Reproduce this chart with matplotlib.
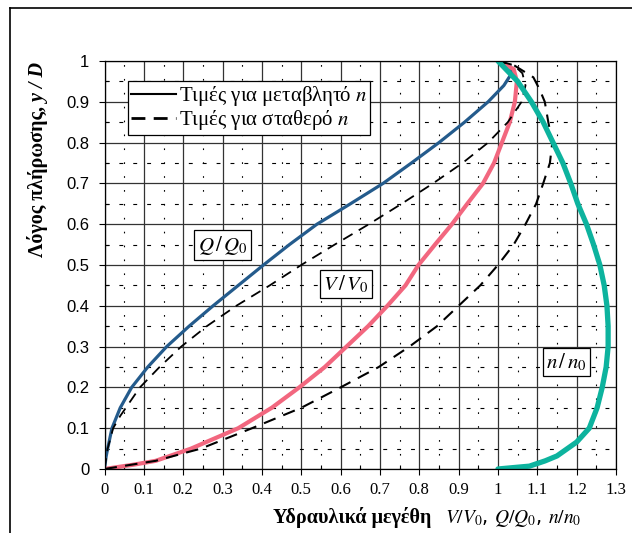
import matplotlib
matplotlib.use("Agg")
from matplotlib import pyplot as plt
from matplotlib.ticker import MultipleLocator
from matplotlib.lines import Line2D

plt.rcParams['mathtext.fontset'] = 'stix'
serif = 'Liberation Serif'
sans = 'Liberation Sans'

# fill ratio y/D and the hydraulic ratios
# Q/Q0, variable n
y_q_var = [0, 0.03, 0.05, 0.1, 0.15, 0.2, 0.25, 0.3, 0.35, 0.4, 0.45, 0.5, 0.55,
           0.6, 0.65, 0.7, 0.75, 0.8, 0.85, 0.9, 0.94, 0.97, 0.99, 1.0]
q_var = [0, 0.004, 0.008, 0.019, 0.04, 0.069, 0.11, 0.158, 0.215, 0.276, 0.34, 0.404, 0.47,
         0.54, 0.625, 0.708, 0.78, 0.85, 0.915, 0.975, 1.015, 1.035, 1.03, 1.0]

# V/V0, variable n
y_v_var = [0, 0.01, 0.02, 0.05, 0.1, 0.15, 0.2, 0.25, 0.3, 0.35, 0.4, 0.45, 0.5, 0.55,
           0.6, 0.65, 0.7, 0.75, 0.8, 0.85, 0.9, 0.95, 0.98, 1.0]
v_var = [0, 0.07, 0.13, 0.22, 0.34, 0.425, 0.495, 0.56, 0.615, 0.67, 0.719, 0.765, 0.798, 0.84,
         0.883, 0.922, 0.962, 0.99, 1.01, 1.03, 1.043, 1.048, 1.04, 1.0]

# n/n0
y_n = [0, 0.007, 0.02, 0.032, 0.066, 0.1, 0.15, 0.2, 0.25, 0.3, 0.35, 0.4, 0.45, 0.5,
       0.55, 0.6, 0.65, 0.7, 0.75, 0.8, 0.85, 0.9, 0.95, 1.0]
n_ratio = [1.0, 1.08, 1.12, 1.15, 1.20, 1.232, 1.252, 1.265, 1.275, 1.28, 1.28, 1.277, 1.27, 1.259,
           1.243, 1.225, 1.203, 1.185, 1.165, 1.14, 1.115, 1.085, 1.05, 1.0]

# Q/Q0, constant n
y_q_const = [0, 0.05, 0.1, 0.13, 0.2, 0.25, 0.3, 0.35, 0.4, 0.45, 0.5, 0.55, 0.6, 0.65,
             0.7, 0.75, 0.8, 0.85, 0.9, 0.94, 0.97, 0.99, 1.0]
q_const = [0, 0.008, 0.022, 0.04, 0.09, 0.14, 0.195, 0.26, 0.335, 0.42, 0.5, 0.585, 0.672, 0.755,
           0.835, 0.91, 0.975, 1.025, 1.06, 1.07, 1.062, 1.04, 1.0]

# V/V0, constant n
y_v_const = [0, 0.02, 0.05, 0.1, 0.15, 0.2, 0.25, 0.3, 0.35, 0.4, 0.45, 0.5, 0.55, 0.6,
             0.65, 0.7, 0.75, 0.8, 0.85, 0.9, 0.93, 0.96, 0.99, 1.0]
v_const = [0, 0.13, 0.245, 0.375, 0.5, 0.6, 0.697, 0.775, 0.845, 0.9, 0.955, 1.0, 1.04, 1.07,
           1.097, 1.115, 1.132, 1.138, 1.128, 1.119, 1.106, 1.09, 1.04, 1.0]

x_ticks = [i / 10 for i in range(14)]
x_ticklabels = ['0', '0.1', '0.2', '0.3', '0.4', '0.5', '0.6', '0.7', '0.8', '0.9',
                '1', '1.1', '1.2', '1.3']
y_ticks = [i / 10 for i in range(11)]
y_ticklabels = ['0', '0.1', '0.2', '0.3', '0.4', '0.5', '0.6', '0.7', '0.8', '0.9', '1']

legend_labels = ["Τιμές για μεταβλητό $n$", "Τιμές για σταθερό $n$"]
curve_tags = [(r"$Q\,/\,Q_{\mathrm{0}}$", 0.30, 0.549),
              (r"$V\,/\,V_{\mathrm{0}}$", 0.614, 0.453),
              (r"$n\,/\,n_{\mathrm{0}}$", 1.175, 0.262)]

W, H = 632, 533
fig = plt.figure(figsize=(W / 100, H / 100), dpi=100)
ax = fig.add_axes([104.5 / W, 1 - 469 / H, (616 - 104.5) / W, (469 - 61) / H])

# frame round the whole picture (top and left only show)
fig.add_artist(Line2D([10 / W, 10 / W], [0, 1 - 8 / H], color='k', lw=1.2))
fig.add_artist(Line2D([10 / W, 1], [1 - 8 / H, 1 - 8 / H], color='k', lw=1.2))

ax.set_xlim(0, 1.3)
ax.set_ylim(0, 1)
ax.xaxis.set_minor_locator(MultipleLocator(0.05))
ax.yaxis.set_minor_locator(MultipleLocator(0.05))
ax.set_xticks(x_ticks)
ax.set_xticklabels(x_ticklabels, fontfamily=serif)
ax.set_yticks(y_ticks)
ax.set_yticklabels(y_ticklabels, fontfamily=sans)
ax.grid(which='major', color='#333333', lw=0.9)
ax.xaxis.grid(which='minor', color='k', lw=0.8, linestyle=(0, (1.5, 11)))
ax.yaxis.grid(which='minor', color='k', lw=0.8, linestyle=(0, (3.5, 9)))
ax.set_axisbelow(True)

ax.tick_params(which='major', direction='out', length=4, width=0.8)
ax.tick_params(which='minor', direction='in', length=3, width=0.8)
ax.tick_params(axis='y', labelsize=12, pad=7)
ax.tick_params(axis='x', labelsize=12, pad=5)
for s in ax.spines.values():
    s.set_color('k')
    s.set_linewidth(0.9)

ax.plot(q_var, y_q_var, color='#245b8c', lw=2.3, solid_capstyle='round')
ax.plot(v_var, y_v_var, color='#f2677f', lw=3.0, solid_capstyle='round')
ax.plot(q_const, y_q_const, color='k', lw=1.3, linestyle=(0, (6, 4)))
ax.plot(v_const, y_v_const, color='k', lw=1.5, linestyle=(0, (6, 4)))
ax.plot(n_ratio, y_n, color='#0db39e', lw=3.8, solid_capstyle='round')

for txt, x, y in curve_tags:
    ax.text(x, y, txt, ha='center', va='center', fontsize=15,
            bbox=dict(boxstyle='square,pad=0.15', fc='white', ec='k', lw=0.9))

handles = [Line2D([], [], color='k', lw=1.5),
           Line2D([], [], color='k', lw=2.0, linestyle=(0, (5, 3)))]
leg = ax.legend(handles, legend_labels, loc='upper left', bbox_to_anchor=(0.045, 0.951),
                borderaxespad=0, fancybox=False, framealpha=1, edgecolor='k',
                prop={'family': serif, 'size': 15}, handlelength=2.2,
                handletextpad=0.1, borderpad=0.15, labelspacing=0.0)
leg.get_frame().set_linewidth(0.9)

# axis titles: plain bold part plus italic symbols
fig.text(431 / W, 1 - 523 / H, "Υδραυλικά μεγέθη", fontfamily=serif,
         fontweight='bold', fontsize=14.5, ha='right', va='baseline')
fig.text(445 / W, 1 - 523 / H, r"$V/V_0$, $Q/Q_0$, $n/n_0$", fontsize=14,
         ha='left', va='baseline')

y1 = fig.text(38 / W, 1 - 257 / H, "Λόγος πλήρωσης,", fontfamily=serif, fontweight='bold',
              fontsize=14.5, rotation=90, ha='center', va='bottom')
ax.annotate(" y / D", xy=(0.5, 1), xycoords=y1, fontfamily=serif, fontweight='bold',
            fontstyle='italic', fontsize=14.5, rotation=90, ha='center', va='bottom',
            annotation_clip=False)

fig.savefig("out.png", dpi=100)
